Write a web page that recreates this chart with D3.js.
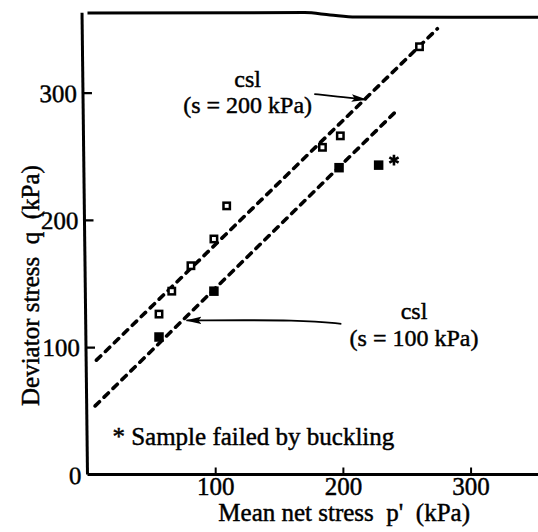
<!DOCTYPE html>
<html>
<head>
<meta charset="utf-8">
<script src="https://cdn.jsdelivr.net/npm/d3@7"></script>
<style>
  html, body { margin: 0; padding: 0; background: #fff; }
  svg { display: block; }
  text { font-family: "Liberation Serif", "DejaVu Serif", serif; fill: #000; stroke: #000; stroke-width: 0.45px; white-space: pre; }
</style>
</head>
<body>
<svg id="chart" width="538" height="532"></svg>
<script>
// Critical state tests: mean net stress p' vs deviator stress q (kPa)
const suction200P = [56, 66, 81, 99, 109, 184, 198, 260];
const suction200Q = [126, 144, 164, 185, 211, 257, 266, 336];
const suction100P = [56, 99, 197, 228];
const suction100Q = [108, 144, 241, 243];
const buckledP = [240];
const buckledQ = [247];

// Critical state lines: q = intercept + slope * p, drawn over pStart..pEnd
const cslNames = ["csl (s = 200 kPa)", "csl (s = 100 kPa)"];
const cslIntercept = [83, 48];
const cslSlope = [0.975, 0.982];
const cslStart = [7, 6];
const cslEnd = [274, 241];

const xTickValues = [100, 200, 300];
const yTickValues = [0, 100, 200, 300];

const W = 538, H = 532;
const svg = d3.select("#chart");

const x = d3.scaleLinear().domain([0, 352.8]).range([87.5, 538]);
const y = d3.scaleLinear().domain([0, 362.5]).range([474.5, 13]);

// Frame top edge (slightly uneven print line), in data units
const frameTop = [[0, 362.5], [170, 362.8], [190, 361], [210, 359.4], [352.8, 359.2]];
svg.append("path")
  .attr("d", d3.line().x(d => x(d[0])).y(d => y(d[1])).curve(d3.curveMonotoneX)(frameTop))
  .attr("fill", "none").attr("stroke", "#000").attr("stroke-width", 3);

// Y axis (printed with a small lean)
const y0px = y(0);
const lean = 0.68;
const yAxisG = svg.append("g")
  .attr("transform", `translate(${x(0)},${y0px}) skewX(${lean}) translate(0,${-y0px})`)
  .call(d3.axisLeft(y).tickValues(yTickValues).tickSizeInner(-9).tickSizeOuter(0).tickPadding(6).tickFormat(d3.format("d")));
yAxisG.select(".domain").attr("stroke-width", 3).attr("d", `M0,${y(362.6)}V${y0px}`);
yAxisG.selectAll(".tick line").attr("stroke-width", 2.2);
yAxisG.selectAll(".tick text").attr("font-size", 25).attr("font-family", "Liberation Serif").attr("dy", "0.34em");
yAxisG.selectAll(".tick").filter(d => d === 0).select("line").remove();

// X axis
const xAxisG = svg.append("g")
  .attr("transform", `translate(0,${y0px})`)
  .call(d3.axisBottom(x).tickValues(xTickValues).tickSizeInner(-7).tickSizeOuter(0).tickPadding(3).tickFormat(d3.format("d")));
xAxisG.select(".domain").attr("stroke-width", 3).attr("d", `M${x(0)},0H${W}`);
xAxisG.selectAll(".tick line").attr("stroke-width", 2);
xAxisG.selectAll(".tick text").attr("font-size", 25).attr("font-family", "Liberation Serif");

// Axis titles
svg.append("text")
  .attr("transform", `translate(${x(0) - 49},${(y(0) + y(300)) / 2 + 2}) rotate(-90)`)
  .attr("text-anchor", "middle").attr("font-size", 25)
  .text("Deviator stress  q  (kPa)");
svg.append("text")
  .attr("x", x(201)).attr("y", 521)
  .attr("text-anchor", "middle").attr("font-size", 25)
  .text("Mean net stress  p'  (kPa)");

// Critical state lines
const cslData = cslNames.map((name, i) => ({
  name,
  pts: [cslStart[i], cslEnd[i]].map(p => [p, cslIntercept[i] + cslSlope[i] * p])
}));
svg.selectAll("path.csl").data(cslData).join("path")
  .attr("class", "csl")
  .attr("d", d => d3.line().x(v => x(v[0])).y(v => y(v[1]))(d.pts))
  .attr("fill", "none").attr("stroke", "#000")
  .attr("stroke-width", 3.6).attr("stroke-dasharray", "6,6.5").attr("stroke-linecap", "round");

// s = 200 kPa: open squares
const openSz = 6.4;
svg.selectAll("rect.s200").data(suction200P.map((p, i) => [p, suction200Q[i]])).join("rect")
  .attr("class", "s200")
  .attr("x", d => x(d[0]) - openSz / 2).attr("y", d => y(d[1]) - openSz / 2)
  .attr("width", openSz).attr("height", openSz)
  .attr("fill", "#fff").attr("stroke", "#000").attr("stroke-width", 2.5);

// s = 100 kPa: filled squares
const fillSz = 9.5;
svg.selectAll("rect.s100").data(suction100P.map((p, i) => [p, suction100Q[i]])).join("rect")
  .attr("class", "s100")
  .attr("x", d => x(d[0]) - fillSz / 2).attr("y", d => y(d[1]) - fillSz / 2)
  .attr("width", fillSz).attr("height", fillSz)
  .attr("fill", "#000");

// Sample that failed by buckling
svg.selectAll("path.buckled").data(buckledP.map((p, i) => [p, buckledQ[i]])).join("path")
  .attr("class", "buckled")
  .attr("transform", d => `translate(${x(d[0])},${y(d[1])})`)
  .attr("d", d3.symbol(d3.symbolAsterisk, 80))
  .attr("fill", "none").attr("stroke", "#000").attr("stroke-width", 2.6);

// Arrowhead
svg.append("defs").append("marker")
  .attr("id", "head").attr("markerUnits", "userSpaceOnUse")
  .attr("viewBox", "0 -5 16 10").attr("refX", 15).attr("refY", 0)
  .attr("markerWidth", 16).attr("markerHeight", 10).attr("orient", "auto")
  .append("path").attr("d", "M0,-3.8L16,0L0,3.8L3,0Z").attr("fill", "#000");

// Label annotations (positions in data units)
const annotations = [
  { lines: ["csl", "(s = 200 kPa)"], at: [125.4, 304.6], gap: 20.3,
    arrow: [[177.6, 298.8], [195, 297], [218.5, 294.4]] },
  { lines: ["csl", "(s = 100 kPa)"], at: [255.7, 121.8], gap: 20.5,
    arrow: [[198.8, 118.3], [170, 121.5], [77.5, 121.0]] }
];
annotations.forEach(a => {
  const g = svg.append("text").attr("text-anchor", "middle").attr("font-size", 24);
  a.lines.forEach((t, i) => {
    g.append("tspan").attr("x", x(a.at[0])).attr("y", y(a.at[1] - i * a.gap)).text(t);
  });
  svg.append("path")
    .attr("d", d3.line().x(v => x(v[0])).y(v => y(v[1])).curve(d3.curveBasis)(a.arrow))
    .attr("fill", "none").attr("stroke", "#000").attr("stroke-width", 1.8)
    .attr("marker-end", "url(#head)");
});

// Note
svg.append("text")
  .attr("x", x(19.5)).attr("y", y(23.2)).attr("font-size", 25)
  .text("* Sample failed by buckling");
</script>
</body>
</html>
